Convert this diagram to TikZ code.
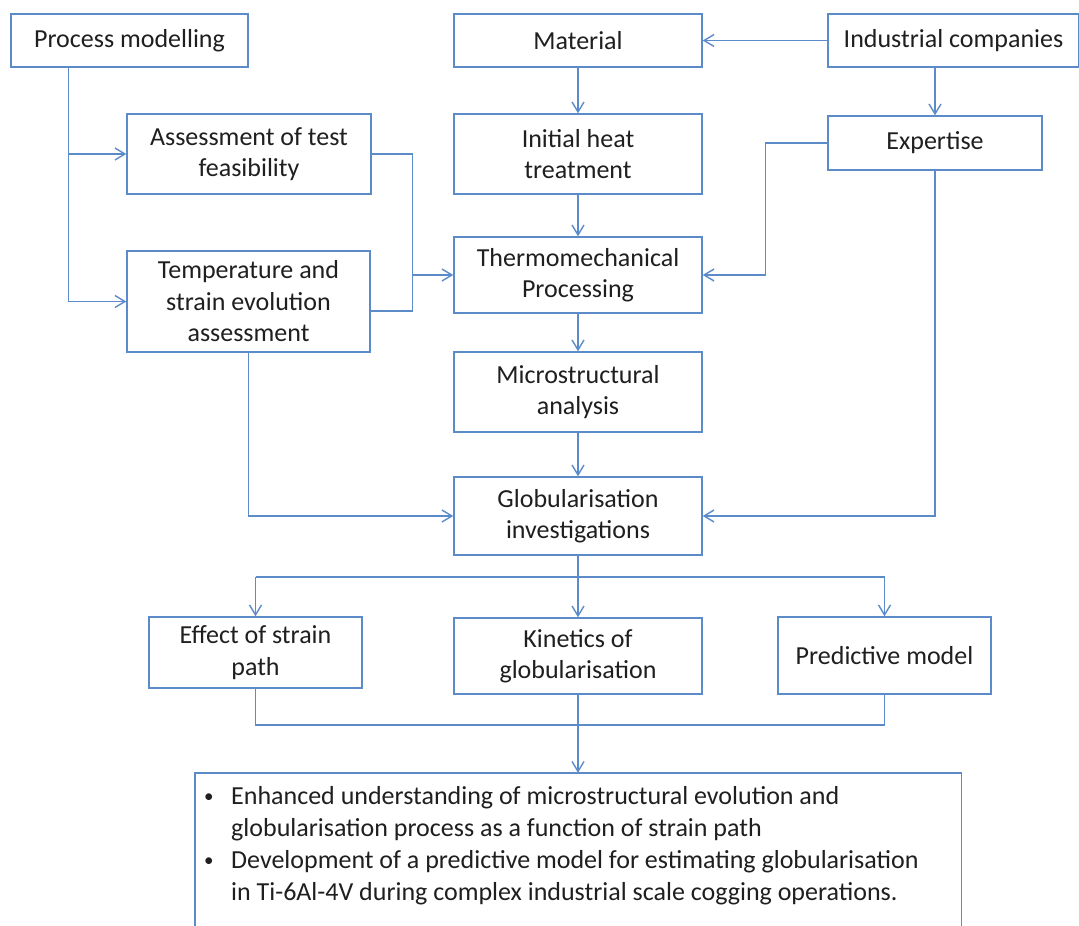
\documentclass[tikz,border=0pt]{standalone}
\usepackage{fontspec}
\setmainfont{Carlito}
\usetikzlibrary{arrows.meta}
\definecolor{lc}{HTML}{5B8BC9}
\definecolor{tc}{HTML}{1F1F1F}
\newcommand{\smallbul}{\makebox[27pt][l]{\raisebox{2pt}{\fontsize{19}{19}\selectfont\textbullet}}}
\begin{document}
\begin{tikzpicture}[x=1pt,y=-1pt,
  txt/.style={text=tc, font=\fontsize{26}{31.5}\selectfont},
  box/.style={txt, draw=lc, line width=1.4pt, align=center, inner sep=0pt},
  ln/.style={draw=lc, line width=1.4pt},
  arr/.style={ln, -{Straight Barb[length=10pt,width=12pt]}}]
\useasboundingbox[fill=white] (0,0) rectangle (1079,926);
% nodes
\node[box, minimum width=237pt, minimum height=53pt] (pm) at (129.5,40.5) {Process modelling};
\node[box, minimum width=248pt, minimum height=53pt] (mat) at (578,40.5) {Material};
\node[box, minimum width=251pt, minimum height=53pt] (ind) at (953.5,40.5) {Industrial companies};
\node[box, minimum width=214pt, minimum height=54pt] (exp) at (935,143) {Expertise};
\node[box, minimum width=244pt, minimum height=80pt] (ass) at (249,154) {Assessment of test\\feasibility};
\node[box, minimum width=248pt, minimum height=80pt] (iht) at (578,154) {Initial heat\\treatment};
\node[box, minimum width=243pt, minimum height=101pt] (tmp) at (248.5,301.5) {Temperature and\\strain evolution\\assessment};
\node[box, minimum width=248pt, minimum height=76pt] (thm) at (578,275) {Thermomechanical\\Processing};
\node[box, minimum width=248pt, minimum height=80pt] (mic) at (578,392) {Microstructural\\analysis};
\node[box, minimum width=248pt, minimum height=78pt] (glo) at (578,516) {Globularisation\\investigations};
\node[box, minimum width=213pt, minimum height=71pt] (eff) at (255.5,652.5) {Effect of strain\\path};
\node[box, minimum width=248pt, minimum height=76pt] (kin) at (578,656) {Kinetics of\\globularisation};
\node[box, minimum width=213pt, minimum height=77pt] (pre) at (884.5,655.5) {Predictive model};
\node[minimum width=766pt, minimum height=200pt, inner sep=0pt] (out) at (578,873) {};
\draw[ln] (out.south west) -- (out.north west) -- (out.north east) -- (out.south east);
\node[text=tc, font=\fontsize{26}{32}\selectfont, anchor=base west, inner sep=0pt] (outtext) at (204,804) {%
  \begin{tabular}[t]{@{}l@{}l@{}}
  \smallbul & Enhanced understanding of microstructural evolution and\\
  & globularisation process as a function of strain path\\
  \smallbul & Development of a predictive model for estimating globularisation\\
  & in Ti-6Al-4V during complex industrial scale cogging operations.
  \end{tabular}};
% helper coordinates
\coordinate (pmx) at (68.5,0);
\coordinate (bx) at (412.5,0);
\coordinate (ty) at (0,311);
\coordinate (ex) at (765.5,0);
\coordinate (by) at (0,577);
\coordinate (jy) at (0,725);
% connectors
\draw[arr] (pm.south -| pmx) |- (ass.west);
\draw[arr] (pm.south -| pmx) |- (tmp.west);
\draw[ln] (ass.east) -| (bx |- ty) -- (tmp.east |- ty);
\draw[arr] (bx |- thm.west) -- (thm.west);
\draw[arr] (mat) -- (iht);
\draw[arr] (iht) -- (thm);
\draw[arr] (thm) -- (mic);
\draw[arr] (mic) -- (glo);
\draw[arr] (ind.west |- mat.east) -- (mat.east);
\draw[arr] (exp.north |- ind.south) -- (exp.north);
\draw[arr] (exp.west) -| (ex |- thm.east) -- (thm.east);
\draw[arr] (exp.south) |- (glo.east);
\draw[arr] (tmp.south) |- (glo.west);
\draw[ln] (glo.south) -- (glo.south |- by);
\draw[ln] (eff.north |- by) -- (pre.north |- by);
\draw[arr] (eff.north |- by) -- (eff.north);
\draw[arr] (kin.north |- by) -- (kin.north);
\draw[arr] (pre.north |- by) -- (pre.north);
\draw[ln] (eff.south) -- (eff.south |- jy) -- (pre.south |- jy) -- (pre.south);
\draw[arr] (kin.south) -- (out.north);
\end{tikzpicture}
\end{document}
